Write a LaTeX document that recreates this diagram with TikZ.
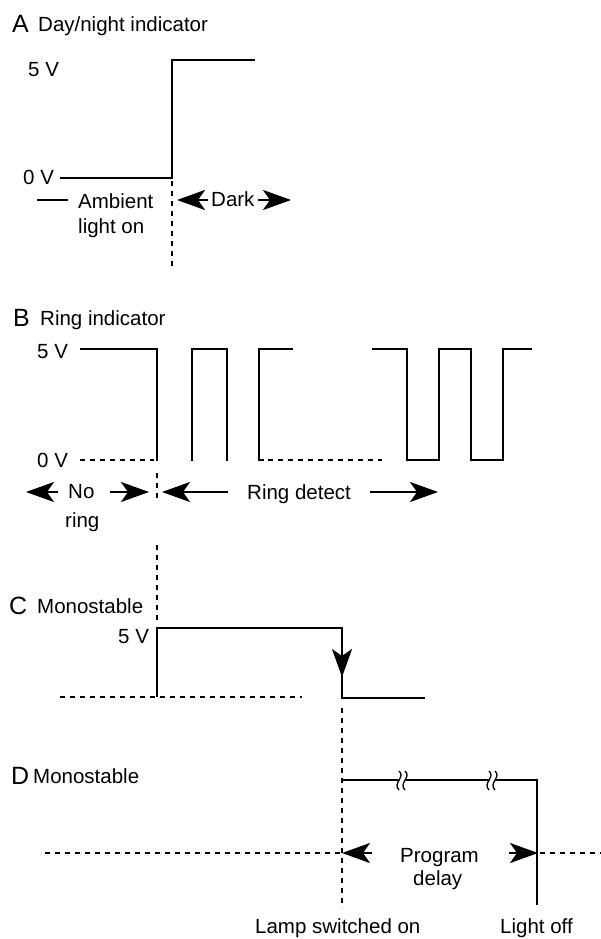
\documentclass[tikz,border=0pt]{standalone}
\usepackage{fontspec}
\setmainfont{Liberation Sans}
\usetikzlibrary{arrows.meta}
\tikzset{
  wave/.style={line width=2.6pt, line join=miter, line cap=butt},
  dsh/.style={line width=2.6pt, dash pattern=on 5pt off 5pt},
  lbl/.style={anchor=base west, inner sep=0pt, font=\fontsize{20.5}{24}\selectfont},
  big/.style={anchor=base west, inner sep=0pt, font=\fontsize{25}{28}\selectfont},
  arr/.style={line width=2.6pt, -{Stealth[length=28pt,width=20pt,inset=7pt]}},
  brk/.style={line width=1.3pt}
}
\begin{document}
\begin{tikzpicture}[x=1pt,y=-1pt]
\useasboundingbox (0,0) rectangle (601,939);

% ---------------- A ----------------
\node[big] (Aletter) at (12,33) {A};
\node[lbl] (Atitle) at (38,32) {Day/night indicator};
\node[lbl] (A5) at (28,77) {5 V};
\node[lbl] (A0) at (23,184) {0 V};
\draw[wave] (60,178) -- (172,178) -- (172,60) -- (255,60);
\draw[dsh] (172,181) -- (172,268);
\draw[wave] (37,200) -- (68,200);
\node[lbl] (amb1) at (78,208) {Ambient};
\node[lbl] (amb2) at (78,233) {light on};
\node[lbl] (dark) at (211,206) {Dark};
\coordinate (dL1) at (208,200); \coordinate (dL2) at (177,200);
\coordinate (dR1) at (258,200); \coordinate (dR2) at (291,200);
\draw[arr] (dL1) -- (dL2);
\draw[arr] (dR1) -- (dR2);

% ---------------- B ----------------
\node[big] (Bletter) at (13,326) {B};
\node[lbl] (Btitle) at (40,325) {Ring indicator};
\node[lbl] (B5) at (37,358) {5 V};
\node[lbl] (B0) at (37,467) {0 V};
\draw[dsh] (80,460) -- (154,460);
\draw[wave] (80,349) -- (157,349) -- (157,461);
\draw[wave] (192,461) -- (192,349) -- (227,349) -- (227,461);
\draw[wave] (264,460) -- (259,460) -- (259,349) -- (293,349);
\draw[dsh] (268,460) -- (382,460);
\draw[wave] (372,349) -- (407,349) -- (407,460) -- (439,460) -- (439,349) -- (471,349) -- (471,460) -- (503,460) -- (503,349) -- (532,349);
\draw[dsh] (157,473) -- (157,498);
\draw[dsh] (157,545) -- (157,622);
\node[lbl] (no) at (68,498) {No};
\node[lbl] (ring) at (65,527) {ring};
\node[lbl] (rd) at (247,499) {Ring detect};
\coordinate (nL1) at (58,492); \coordinate (nL2) at (26,492);
\coordinate (nR1) at (110,492); \coordinate (nR2) at (149,492);
\coordinate (rL1) at (228,492); \coordinate (rL2) at (162,492);
\coordinate (rR1) at (370,492); \coordinate (rR2) at (438,492);
\draw[arr] (nL1) -- (nL2);
\draw[arr] (nR1) -- (nR2);
\draw[arr] (rL1) -- (rL2);
\draw[arr] (rR1) -- (rR2);

% ---------------- C ----------------
\node[big] (Cletter) at (9,614) {C};
\node[lbl] (Ctitle) at (37,613) {Monostable};
\node[lbl] (C5) at (118,643) {5 V};
\draw[dsh] (60,697) -- (302,697);
\draw[wave] (157,697) -- (157,628) -- (342,628) -- (342,698) -- (425,698);
\coordinate (cA1) at (342,640); \coordinate (cA2) at (342,677);
\draw[arr] (cA1) -- (cA2);
\draw[dsh] (342,708) -- (342,908);

% ---------------- D ----------------
\node[big] (Dletter) at (11,784) {D};
\node[lbl] (Dtitle) at (33,783) {Monostable};
\draw[wave] (342,780) -- (537,780) -- (537,905);
\draw[dsh] (45,853) -- (342,853);
\draw[dsh] (540,853) -- (601,853);
% break marks
\foreach \bx in {402,492} {
  \draw[white, line width=4pt] (\bx-2.5,780) -- (\bx+2.5,780);
  \draw[brk] (\bx-3,771) .. controls (\bx+4,777) and (\bx-10,783) .. (\bx-3,790);
  \draw[brk] (\bx+3,771) .. controls (\bx+10,777) and (\bx-4,783) .. (\bx+3,790);
}
\coordinate (pL1) at (372,853); \coordinate (pL2) at (342,853);
\coordinate (pR1) at (509,853); \coordinate (pR2) at (538,853);
\draw[arr] (pL1) -- (pL2);
\draw[arr] (pR1) -- (pR2);
\node[lbl] (prog) at (400,862) {Program};
\node[lbl] (delay) at (413,885) {delay};
\node[lbl] (lamp) at (255,933) {Lamp switched on};
\node[lbl] (loff) at (500,933) {Light off};
\end{tikzpicture}
\end{document}
